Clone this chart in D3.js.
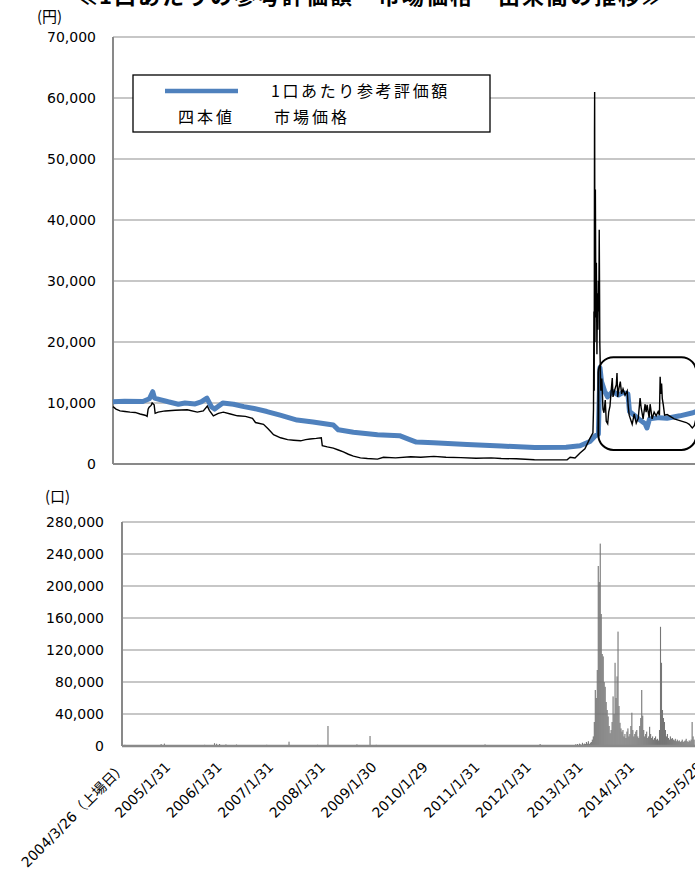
<!DOCTYPE html>
<html>
<head>
<meta charset="utf-8">
<script src="https://cdn.jsdelivr.net/npm/d3@7"></script>
<style>
  body { margin: 0; background: #fff; }
  svg { display: block; }
  text { font-family: "DejaVu Sans", "Noto Sans CJK JP", sans-serif; fill: #000; }
  .jp { font-family: "Noto Sans CJK JP", sans-serif; }
</style>
</head>
<body>
<svg id="chart" width="695" height="873"></svg>
<script>
// ---- data ----
const dateTicks  = ['2004-03-26', '2005-01-31', '2006-01-31', '2007-01-31', '2008-01-31', '2009-01-30',
                    '2010-01-29', '2011-01-31', '2012-01-31', '2013-01-31', '2014-01-31', '2015-05-29'];
const dateLabels = ['2004/3/26', '2005/1/31', '2006/1/31', '2007/1/31', '2008/1/31', '2009/1/30',
                    '2010/1/29', '2011/1/31', '2012/1/31', '2013/1/31', '2014/1/31', '2015/5/29'];
const firstLabelNote = '（上場日）';
const priceTicks = [0, 10000, 20000, 30000, 40000, 50000, 60000, 70000];
const volTicks   = [0, 40000, 80000, 120000, 160000, 200000, 240000, 280000];

// 1口あたり参考評価額 (NAV per unit)
const navDates = ['2004-03-26', '2004-06-15', '2004-10-20', '2004-12-05', '2004-12-28', '2005-01-10',
  '2005-02-10', '2005-04-15', '2005-06-25', '2005-08-10', '2005-10-20', '2005-12-01', '2006-01-10',
  '2006-02-10', '2006-03-05', '2006-05-01', '2006-07-15', '2006-09-25', '2006-12-05', '2007-03-05',
  '2007-06-05', '2007-10-01', '2008-01-20', '2008-06-10', '2008-07-15', '2008-10-28', '2009-04-14',
  '2009-09-15', '2009-11-25', '2010-01-10', '2010-05-10', '2010-12-30', '2011-08-25', '2012-04-15',
  '2012-11-20', '2013-02-25', '2013-05-05', '2013-06-10', '2013-07-03', '2013-07-14', '2013-07-25',
  '2013-08-15', '2013-09-05', '2013-10-10', '2013-11-20', '2013-12-20', '2014-01-25', '2014-02-05',
  '2014-03-10', '2014-04-20', '2014-05-25', '2014-06-07', '2014-06-25', '2014-09-01', '2014-10-25',
  '2015-01-23', '2015-04-24', '2015-05-29'];
const navValues = [10200, 10300, 10250, 10700, 11850, 10800,
  10600, 10200, 9800, 10000, 9850, 10200, 10800,
  9400, 9000, 10000, 9800, 9400, 9100, 8600,
  8000, 7200, 6900, 6400, 5600, 5200, 4800,
  4650, 4000, 3600, 3500, 3200, 2950, 2700,
  2750, 3000, 3700, 4600, 4900, 15800, 13500,
  12000, 11000, 11900, 11300, 11700, 11500, 8600,
  8000, 7200, 6600, 5900, 7400, 7600, 7500,
  7900, 8400, 8700];

// 市場価格 (market price)
const priceDates = ['2004-03-26', '2004-04-16', '2004-05-14', '2004-06-18', '2004-07-23', '2004-08-27',
  '2004-10-01', '2004-11-05', '2004-11-19', '2004-11-26', '2004-12-03', '2004-12-17', '2004-12-24',
  '2005-01-07', '2005-01-14', '2005-02-04', '2005-03-25', '2005-06-03', '2005-08-26', '2005-11-04',
  '2005-12-16', '2006-01-13', '2006-01-27', '2006-02-24', '2006-03-31', '2006-05-05', '2006-06-23',
  '2006-08-11', '2006-10-06', '2006-11-24', '2006-12-15', '2007-02-09', '2007-03-16', '2007-04-20',
  '2007-06-08', '2007-07-27', '2007-09-07', '2007-10-26', '2007-11-30', '2007-12-31', '2008-02-12',
  '2008-03-18', '2008-03-25', '2008-04-29', '2008-06-10', '2008-07-15', '2008-08-19', '2008-09-23',
  '2008-10-28', '2008-12-16', '2009-02-03', '2009-04-14', '2009-05-26', '2009-08-18', '2009-12-02',
  '2010-02-10', '2010-05-12', '2010-08-05', '2010-11-17', '2011-03-03', '2011-06-16', '2011-08-25',
  '2011-12-08', '2012-04-13', '2012-08-11', '2012-11-27', '2012-12-18', '2013-01-21', '2013-02-25',
  '2013-03-31', '2013-05-05', '2013-05-26', '2013-05-30', '2013-06-02', '2013-06-04', '2013-06-06',
  '2013-06-07', '2013-06-09', '2013-06-12', '2013-06-16', '2013-06-19', '2013-06-23', '2013-06-26',
  '2013-06-30', '2013-07-03', '2013-07-06', '2013-07-09', '2013-07-11', '2013-07-13', '2013-07-16',
  '2013-07-20', '2013-07-27', '2013-08-04', '2013-08-11', '2013-08-20', '2013-08-27', '2013-09-06',
  '2013-09-13', '2013-09-22', '2013-10-02', '2013-10-08', '2013-10-13', '2013-10-23', '2013-11-05',
  '2013-11-10', '2013-11-15', '2013-11-24', '2013-12-03', '2013-12-12', '2013-12-22', '2014-01-05',
  '2014-01-20', '2014-01-27', '2014-02-03', '2014-02-17', '2014-02-24', '2014-03-10', '2014-03-24',
  '2014-04-07', '2014-04-20', '2014-04-27', '2014-05-11', '2014-05-25', '2014-06-01', '2014-06-08',
  '2014-06-22', '2014-06-29', '2014-07-13', '2014-07-27', '2014-08-10', '2014-08-24', '2014-09-02',
  '2014-09-07', '2014-09-12', '2014-09-17', '2014-09-22', '2014-09-29', '2014-10-08', '2014-10-26',
  '2014-11-16', '2014-12-14', '2015-01-11', '2015-02-08', '2015-03-08', '2015-03-29', '2015-04-19',
  '2015-05-03', '2015-05-17', '2015-05-29'];
const priceValues = [9400, 9000, 8700, 8600, 8500, 8450,
  8200, 8000, 7800, 9000, 9300, 9600, 10000,
  9700, 8300, 8500, 8700, 8800, 8900, 8500,
  8700, 9500, 8800, 7900, 8300, 8500, 8200,
  7900, 7800, 7500, 6800, 6500, 5700, 4800,
  4300, 4000, 3900, 3800, 4000, 4100, 4200,
  4300, 3000, 2800, 2600, 2300, 2000, 1600,
  1300, 1000, 900, 800, 1100, 1000, 1200,
  1100, 1250, 1100, 1050, 950, 1000, 900,
  850, 700, 680, 700, 1100, 1000, 1800,
  2500, 4200, 5100, 9000, 25000, 12000, 54000,
  61000, 20000, 45000, 24000, 33000, 18000, 28000,
  22000, 30000, 25000, 38400, 30000, 20000, 16500,
  12000, 14000, 9000, 8400, 10500, 7000, 6600,
  8500, 9500, 12500, 14100, 11000, 12000, 13000,
  14900, 11000, 12500, 13500, 11500, 12300, 11300,
  12000, 9500, 8000, 7000, 6500, 8200, 6700,
  7500, 10800, 9300, 7400, 9800, 8500, 9700,
  7600, 9800, 7400, 8500, 7900, 8600, 8000,
  14300, 11500, 13200, 10700, 9700, 8000, 8100,
  7800, 7400, 7200, 7000, 6800, 6500, 5900,
  6300, 7600, 8000];

// 出来高 (volume): sparse bars before 2013, weekly bars from 2013
const volCalmDates  = ['2004-04-15', '2004-06-10', '2004-09-01', '2004-12-28', '2005-01-20', '2005-03-01',
  '2005-06-10', '2005-11-01', '2006-01-10', '2006-01-25', '2006-02-15', '2006-04-01', '2006-06-15',
  '2006-09-01', '2007-01-15', '2007-06-22', '2007-09-20', '2008-01-10', '2008-03-24', '2008-07-01',
  '2008-10-15', '2009-01-16', '2009-03-01', '2009-08-01', '2010-03-01', '2010-10-01', '2011-04-11',
  '2011-10-01', '2012-05-05', '2012-10-01'];
const volCalmValues = [1500, 800, 1200, 2500, 3000, 1000,
  800, 1500, 3500, 2800, 2500, 2000, 1800,
  1200, 1500, 5400, 1200, 1500, 25000, 1200,
  2000, 12500, 1500, 800, 700, 900, 2000,
  800, 2500, 1000];
const volWeekStart = '2013-01-11';
const volWeekly = [2000, 1500, 2500, 1000, 3000, 2000, 1500, 4000, 2000, 3000,
  2500, 5000, 3000, 6000, 2500, 4000, 5000, 8000, 12000, 30000,
  70000, 60000, 95000, 225000, 205000, 253000, 165000, 115000, 112000, 80000,
  74000, 55000, 45000, 37000, 25000, 16000, 20000, 30000, 62000, 40000,
  104000, 60000, 87000, 143000, 50000, 29000, 22000, 18000, 20000, 12000,
  15000, 10000, 18000, 22000, 12000, 15000, 25000, 41600, 20000, 12000,
  15000, 18000, 20000, 12000, 10000, 25000, 35000, 70000, 38000, 20000,
  12000, 15000, 18000, 10000, 12000, 24000, 15000, 10000, 12000, 8000,
  10000, 12000, 8000, 9000, 7000, 20000, 149000, 104000, 45000, 35000,
  30000, 20000, 12000, 15000, 10000, 8000, 12000, 9000, 10000, 8000,
  7000, 9000, 6000, 8000, 6000, 7000, 5000, 6000, 8000, 5000,
  6000, 7000, 9000, 6000, 5000, 7000, 6000, 8000, 30000, 12000, 8000];

// annotation box round the post-spike period
const boxFrom = '2013-07-03', boxTo = '2015-05-18', boxHigh = 17500, boxLow = 2300;

// ---- drawing ----
const W = 695;
const parse = d3.timeParse('%Y-%m-%d');
const svg = d3.select('#chart');
const t0 = parse(dateTicks[0]), t1 = parse(dateTicks[dateTicks.length - 1]);

const xTop = d3.scaleTime().domain([t0, t1]).range([113, 698]);
const yTop = d3.scaleLinear().domain([0, 70000]).range([464, 37]);
const xVol = d3.scaleTime().domain([t0, t1]).range([122, 698]);
const yVol = d3.scaleLinear().domain([0, 280000]).range([746, 522]);

const gridColor = '#b4b4b4', axisColor = '#898989';

// title (cut off at the top edge in the original)
svg.append('text')
  .attr('class', 'jp')
  .attr('x', 75).attr('y', 4)
  .attr('font-size', 22).attr('font-weight', 'bold')
  .attr('letter-spacing', 2)
  .text('≪1口あたりの参考評価額・市場価格・出来高の推移≫');

// ---------- top chart ----------
svg.append('g').selectAll('line')
  .data(priceTicks.filter(d => d > 0))
  .join('line')
  .attr('x1', xTop.range()[0]).attr('x2', W + 20)
  .attr('y1', d => yTop(d)).attr('y2', d => yTop(d))
  .attr('stroke', gridColor).attr('stroke-width', 1.5);

const yAxisTop = svg.append('g')
  .attr('transform', `translate(${xTop.range()[0]},0)`)
  .call(d3.axisLeft(yTop).tickValues(priceTicks).tickFormat(d3.format(',')).tickSize(0).tickPadding(17));
yAxisTop.select('.domain').remove();
yAxisTop.selectAll('text').attr('font-size', 14).attr('font-family', null);

svg.append('line')
  .attr('x1', xTop.range()[0]).attr('x2', xTop.range()[0])
  .attr('y1', yTop(70000)).attr('y2', yTop(0))
  .attr('stroke', axisColor).attr('stroke-width', 2);
svg.append('line')
  .attr('x1', xTop.range()[0]).attr('x2', W + 20)
  .attr('y1', yTop(0)).attr('y2', yTop(0))
  .attr('stroke', axisColor).attr('stroke-width', 2);

svg.append('text').attr('class', 'jp')
  .attr('x', 37).attr('y', 22).attr('font-size', 15)
  .text('(円)');

const navData = navDates.map((d, i) => ({ date: parse(d), value: navValues[i] }));
const priceData = priceDates.map((d, i) => ({ date: parse(d), value: priceValues[i] }));

svg.append('path')
  .datum(navData)
  .attr('fill', 'none')
  .attr('stroke', '#4f81bd')
  .attr('stroke-width', 5)
  .attr('stroke-linejoin', 'round')
  .attr('d', d3.line().x(d => xTop(d.date)).y(d => yTop(d.value)));

svg.append('path')
  .datum(priceData)
  .attr('fill', 'none')
  .attr('stroke', '#000')
  .attr('stroke-width', 1.4)
  .attr('d', d3.line().x(d => xTop(d.date)).y(d => yTop(d.value)));

// rounded annotation box
svg.append('rect')
  .attr('x', xTop(parse(boxFrom)))
  .attr('y', yTop(boxHigh))
  .attr('width', xTop(parse(boxTo)) - xTop(parse(boxFrom)))
  .attr('height', yTop(boxLow) - yTop(boxHigh))
  .attr('rx', 15).attr('ry', 15)
  .attr('fill', 'none').attr('stroke', '#000').attr('stroke-width', 2);

// legend
const legend = svg.append('g');
legend.append('rect')
  .attr('x', 133).attr('y', 75).attr('width', 357).attr('height', 57)
  .attr('fill', '#fff').attr('stroke', '#000').attr('stroke-width', 1.3);
legend.append('line')
  .attr('x1', 165).attr('x2', 238).attr('y1', 91).attr('y2', 91)
  .attr('stroke', '#4f81bd').attr('stroke-width', 4.5);
legend.append('text').attr('class', 'jp')
  .attr('x', 271).attr('y', 97).attr('font-size', 16).attr('letter-spacing', 2.6)
  .text('1口あたり参考評価額');
legend.append('text').attr('class', 'jp')
  .attr('x', 178).attr('y', 123).attr('font-size', 16).attr('letter-spacing', 3)
  .text('四本値');
legend.append('text').attr('class', 'jp')
  .attr('x', 274).attr('y', 123).attr('font-size', 16).attr('letter-spacing', 3)
  .text('市場価格');

// ---------- volume chart ----------
svg.append('g').selectAll('line')
  .data(volTicks.filter(d => d > 0))
  .join('line')
  .attr('x1', xVol.range()[0]).attr('x2', W + 20)
  .attr('y1', d => yVol(d)).attr('y2', d => yVol(d))
  .attr('stroke', gridColor).attr('stroke-width', 1.5);

const yAxisVol = svg.append('g')
  .attr('transform', `translate(${xVol.range()[0]},0)`)
  .call(d3.axisLeft(yVol).tickValues(volTicks).tickFormat(d3.format(',')).tickSize(0).tickPadding(18));
yAxisVol.select('.domain').remove();
yAxisVol.selectAll('text').attr('font-size', 14).attr('font-family', null);

svg.append('text').attr('class', 'jp')
  .attr('x', 45).attr('y', 502).attr('font-size', 15)
  .text('(口)');

const volData = volCalmDates.map((d, i) => ({ date: parse(d), value: volCalmValues[i] }))
  .concat(volWeekly.map((v, i) => ({ date: d3.timeWeek.offset(parse(volWeekStart), i), value: v })));

svg.append('g').selectAll('rect')
  .data(volData)
  .join('rect')
  .attr('x', d => xVol(d.date) - 0.5)
  .attr('width', 1.1)
  .attr('y', d => yVol(d.value))
  .attr('height', d => yVol(0) - yVol(d.value))
  .attr('fill', '#767676');

svg.append('line')
  .attr('x1', xVol.range()[0]).attr('x2', xVol.range()[0])
  .attr('y1', yVol(280000)).attr('y2', yVol(0))
  .attr('stroke', axisColor).attr('stroke-width', 2);

const xAxis = svg.append('g')
  .attr('transform', `translate(0,${yVol(0)})`)
  .call(d3.axisBottom(xVol)
    .tickValues(dateTicks.map(parse))
    .tickFormat((d, i) => dateLabels[i])
    .tickSize(0));
xAxis.select('.domain')
  .attr('stroke', axisColor).attr('stroke-width', 2.5)
  .attr('d', `M${xVol.range()[0]},0H${W + 20}`);
xAxis.selectAll('text')
  .attr('font-size', 14).attr('font-family', null)
  .attr('text-anchor', 'end')
  .attr('x', 0).attr('y', 0).attr('dy', 0)
  .attr('transform', 'translate(5,22) rotate(-45)');
// first label carries the listing-day note
xAxis.select('.tick text')
  .append('tspan')
  .attr('font-family', '"Noto Sans CJK JP", sans-serif')
  .text(firstLabelNote);
</script>
</body>
</html>
